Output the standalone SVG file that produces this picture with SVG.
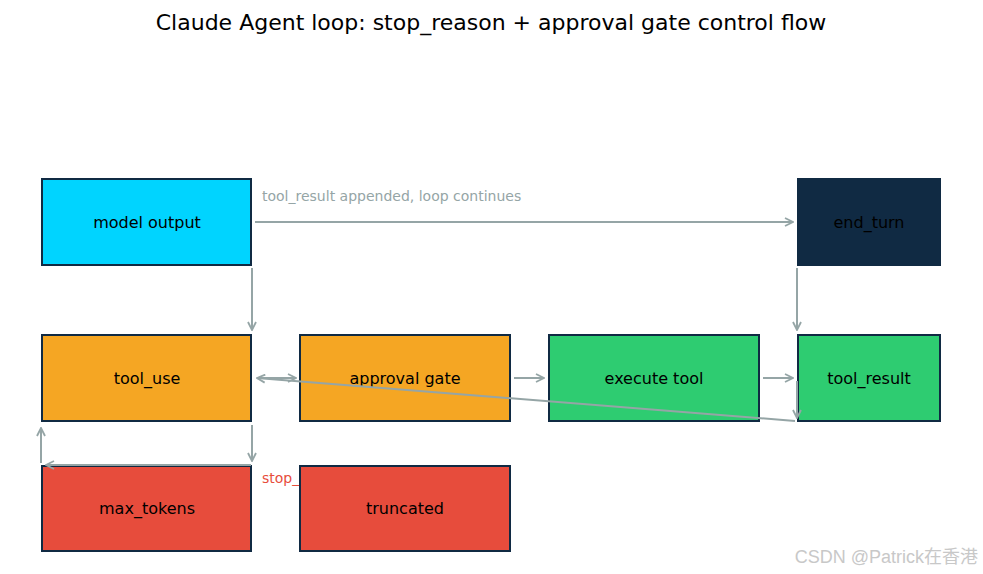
<svg xmlns="http://www.w3.org/2000/svg" width="983" height="574" viewBox="0 0 983 574">
<defs>
<marker id="arr" viewBox="0 0 10 10" refX="9" refY="5" markerWidth="10" markerHeight="10" markerUnits="userSpaceOnUse" orient="auto-start-reverse">
<path d="M1,1 L9,5 L1,9" fill="none" stroke="#95a5a6" stroke-width="1.8"/>
</marker>
</defs>
<style>
.box{stroke:#102a43;stroke-width:2}
.lbl{font-family:"DejaVu Sans",sans-serif;font-size:16px;fill:#000;text-anchor:middle;dominant-baseline:central}
.edge{stroke:#95a5a6;stroke-width:2;fill:none}
.elbl{font-family:"DejaVu Sans",sans-serif;font-size:14px}
</style>
<rect width="983" height="574" fill="#fff"/>
<text x="491" y="30" font-family="DejaVu Sans, sans-serif" font-size="22" text-anchor="middle" fill="#000">Claude Agent loop: stop_reason + approval gate control flow</text>
<text class="elbl" x="262" y="483" fill="#e74c3c">stop_</text>
<g id="model_output"><rect class="box" x="42" y="179" width="209" height="86" fill="#00d4ff"/><text class="lbl" x="147" y="222">model output</text></g>
<g id="end_turn"><rect class="box" x="798" y="179" width="142" height="86" fill="#102a43"/><text class="lbl" x="869" y="222">end_turn</text></g>
<g id="tool_use"><rect class="box" x="42" y="335" width="209" height="86" fill="#f5a623"/><text class="lbl" x="147" y="378">tool_use</text></g>
<g id="approval_gate"><rect class="box" x="300" y="335" width="210" height="86" fill="#f5a623"/><text class="lbl" x="405" y="378">approval gate</text></g>
<g id="execute_tool"><rect class="box" x="549" y="335" width="210" height="86" fill="#2ecc71"/><text class="lbl" x="654" y="378">execute tool</text></g>
<g id="tool_result"><rect class="box" x="798" y="335" width="142" height="86" fill="#2ecc71"/><text class="lbl" x="869" y="378">tool_result</text></g>
<g id="max_tokens"><rect class="box" x="42" y="466" width="209" height="85" fill="#e74c3c"/><text class="lbl" x="147" y="508">max_tokens</text></g>
<g id="truncated"><rect class="box" x="300" y="466" width="210" height="85" fill="#e74c3c"/><text class="lbl" x="405" y="508">truncated</text></g>
<g id="connectors">
<line class="edge" x1="255" y1="222" x2="793" y2="222" marker-end="url(#arr)"/>
<text class="elbl" x="262" y="201" fill="#95a5a6">tool_result appended, loop continues</text>
<line class="edge" x1="252" y1="268" x2="252" y2="330" marker-end="url(#arr)"/>
<line class="edge" x1="797" y1="268" x2="797" y2="330" marker-end="url(#arr)"/>
<line class="edge" x1="257" y1="378" x2="296" y2="378" marker-end="url(#arr)"/>
<line class="edge" x1="795" y1="421" x2="257" y2="378" marker-end="url(#arr)"/>
<line class="edge" x1="514" y1="378" x2="544" y2="378" marker-end="url(#arr)"/>
<line class="edge" x1="763" y1="378" x2="793" y2="378" marker-end="url(#arr)"/>
<line class="edge" x1="252" y1="425" x2="252" y2="461" marker-end="url(#arr)"/>
<line class="edge" x1="251" y1="465" x2="46" y2="465" marker-end="url(#arr)"/>
<line class="edge" x1="41" y1="463" x2="41" y2="428" marker-end="url(#arr)"/>
<line class="edge" x1="797" y1="381" x2="797" y2="418" marker-end="url(#arr)"/>
</g>
<text x="978" y="563" font-family="Liberation Sans, Noto Sans CJK SC, sans-serif" font-size="18" text-anchor="end" fill="#c8c8c8">CSDN @Patrick在香港</text>
</svg>
